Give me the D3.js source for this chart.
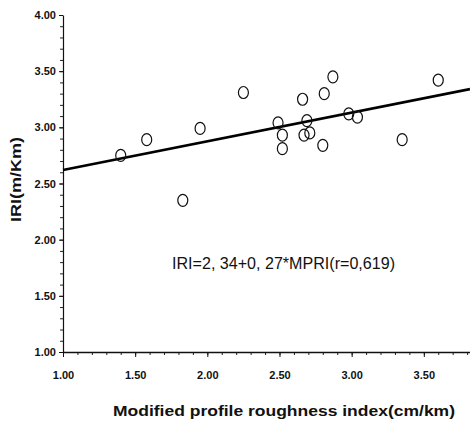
<!DOCTYPE html>
<html>
<head>
<meta charset="utf-8">
<script src="https://cdn.jsdelivr.net/npm/d3@7"></script>
<style>
  body { margin: 0; background: #fff; }
  svg { display: block; font-family: "Liberation Sans", Arial, sans-serif; }
  .tick text { font-weight: bold; font-size: 11px; fill: #111; }
</style>
</head>
<body>
<svg id="chart" width="470" height="426"></svg>
<script>
// MPRI (cm/km) vs IRI (m/km)
const mpri = [1.40, 1.58, 1.95, 1.83, 2.25, 2.49, 2.52, 2.52, 2.66, 2.69,
              2.67, 2.71, 2.81, 2.80, 2.87, 2.98, 3.04, 3.35, 3.60];
const iri  = [2.75, 2.89, 2.99, 2.35, 3.31, 3.04, 2.93, 2.81, 3.25, 3.06,
              2.93, 2.95, 3.30, 2.84, 3.45, 3.12, 3.09, 2.89, 3.42];

// regression line ends
const fitX = [1.00, 3.82];
const fitY = [2.62, 3.34];

const xTicks = [1.0, 1.5, 2.0, 2.5, 3.0, 3.5];
const yTicks = [1.0, 1.5, 2.0, 2.5, 3.0, 3.5, 4.0];
const equation = "IRI=2, 34+0, 27*MPRI(r=0,619)";

const svg = d3.select("#chart");

const x = d3.scaleLinear().domain([1, 3.82]).range([63, 470]);
const y = d3.scaleLinear().domain([1, 4]).range([352, 15]);

// minor ticks every 0.1
svg.append("g")
    .attr("transform", "translate(0,352)")
    .call(d3.axisBottom(x).tickValues(d3.range(10, 39).map(d => d / 10))
        .tickSize(3).tickFormat(""))
    .call(g => g.select(".domain").remove())
    .selectAll("line").attr("stroke", "#222");

svg.append("g")
    .attr("transform", "translate(63,0)")
    .call(d3.axisLeft(y).tickValues(d3.range(10, 41).map(d => d / 10))
        .tickSize(3).tickFormat(""))
    .call(g => g.select(".domain").remove())
    .selectAll("line").attr("stroke", "#222");

// major axes
const xAxis = svg.append("g")
    .attr("transform", "translate(0,352)")
    .call(d3.axisBottom(x).tickValues(xTicks).tickFormat(d3.format(".2f"))
        .tickSize(5).tickSizeOuter(0).tickPadding(14));
xAxis.select(".domain").attr("stroke", "#111").attr("stroke-width", 1.4);
xAxis.selectAll("line").attr("stroke", "#111");

const yAxis = svg.append("g")
    .attr("transform", "translate(63,0)")
    .call(d3.axisLeft(y).tickValues(yTicks).tickFormat(d3.format(".2f"))
        .tickSize(4).tickSizeOuter(0).tickPadding(3));
yAxis.select(".domain").attr("stroke", "#111").attr("stroke-width", 1.2);
yAxis.selectAll("line").attr("stroke", "#111");

// fitted line
svg.append("line")
    .attr("x1", x(fitX[0])).attr("y1", y(fitY[0]))
    .attr("x2", x(fitX[1])).attr("y2", y(fitY[1]))
    .attr("stroke", "#000")
    .attr("stroke-width", 2.6);

// points
svg.append("g")
    .selectAll("ellipse")
    .data(mpri)
    .enter()
    .append("ellipse")
    .attr("cx", d => x(d))
    .attr("cy", (d, i) => y(iri[i]))
    .attr("rx", 5)
    .attr("ry", 6)
    .attr("fill", "none")
    .attr("stroke", "#111")
    .attr("stroke-width", 1.2);

svg.append("text")
    .attr("x", 172)
    .attr("y", 269)
    .attr("font-size", 16)
    .attr("textLength", 223)
    .attr("lengthAdjust", "spacingAndGlyphs")
    .attr("fill", "#111")
    .text(equation);

svg.append("text")
    .attr("x", 113)
    .attr("y", 416)
    .attr("font-size", 15)
    .attr("font-weight", "bold")
    .attr("textLength", 342)
    .attr("lengthAdjust", "spacingAndGlyphs")
    .attr("fill", "#111")
    .text("Modified profile roughness index(cm/km)");

svg.append("text")
    .attr("transform", "translate(21,222) rotate(-90)")
    .attr("font-size", 15)
    .attr("font-weight", "bold")
    .attr("textLength", 85)
    .attr("lengthAdjust", "spacingAndGlyphs")
    .attr("fill", "#111")
    .text("IRI(m/Km)");
</script>
</body>
</html>
